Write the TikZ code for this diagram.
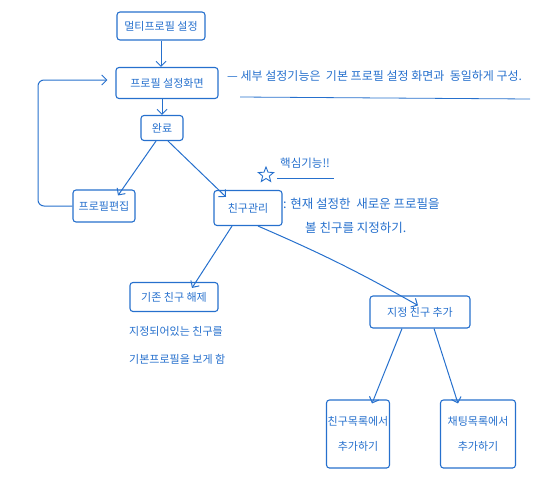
\documentclass[tikz,border=0pt]{standalone}
\usepackage{fontspec}
\setmainfont{Noto Sans CJK KR}
\usetikzlibrary{arrows.meta,shapes.geometric}
\definecolor{ink}{RGB}{38,112,205}
\tikzset{
  box/.style={draw=ink, line width=1.1pt, rounded corners=3pt, text=ink, font=\fontsize{11}{13}\selectfont, inner sep=0pt, align=center},
  note/.style={text=ink, font=\fontsize{12}{14}\selectfont, inner sep=1pt, anchor=west},
  smallnote/.style={note, font=\fontsize{11}{13}\selectfont},
  conn/.style={draw=ink, line width=1pt, -{Straight Barb[length=5pt,width=10pt]}},
  plain/.style={draw=ink, line width=1pt}
}
\begin{document}
\begin{tikzpicture}[x=1pt,y=-1pt]
\useasboundingbox (0,0) rectangle (534,488);
% boxes
\node[box, minimum width=88pt, minimum height=28pt] (multi) at (161,26) {멀티프로필 설정};
\node[box, minimum width=102pt, minimum height=31pt] (setscr) at (167,83) {프로필 설정화면};
\node[box, minimum width=42pt, minimum height=25pt] (done) at (162,128) {완료};
\node[box, minimum width=62pt, minimum height=32pt] (edit) at (104,206) {프로필편집};
\node[box, minimum width=68pt, minimum height=35pt] (friend) at (248,208) {친구관리};
\node[box, minimum width=88pt, minimum height=29pt] (release) at (174,297) {기존 친구 해제};
\node[box, minimum width=100pt, minimum height=32pt] (add) at (420,312) {지정 친구 추가};
\node[box, minimum width=63pt, minimum height=68pt] (flist) at (358,434) {친구목록에서\\[12pt]추가하기};
\node[box, minimum width=75pt, minimum height=68pt] (clist) at (478,434) {채팅목록에서\\[12pt]추가하기};
% notes
\node[note] (n1) at (226,76) {— 세부 설정기능은 \ 기본 프로필 설정 화면과 \ 동일하게 구성.};
\coordinate (u1) at (240,97);
\coordinate (u2) at (530,99);
\draw[plain, line width=0.8pt] (u1) -- (u2);
\node[star, star points=5, star point ratio=2.3, draw=ink, line width=0.9pt, minimum size=16pt, inner sep=0pt] (star) at (266,175) {};
\node[note, font=\fontsize{11.5}{13}\selectfont] (key) at (279,163) {핵심기능!!};
\coordinate (k1) at (277,178);
\coordinate (k2) at (334,178);
\draw[plain, line width=0.8pt] (k1) -- (k2);
\node[note, font=\fontsize{12.5}{14}\selectfont] (n2) at (282,204) {: 현재 설정한 \ 새로운 프로필을};
\node[note, font=\fontsize{12.5}{14}\selectfont] (n3) at (304,228) {볼 친구를 지정하기.};
\node[smallnote] (n4) at (128,331) {지정되어있는 친구를};
\node[smallnote] (n5) at (128,359) {기본프로필을 보게 함};
% connectors
\draw[conn] (multi.south) -- (multi.south |- setscr.north);
\draw[conn] (setscr.south -| done.north) -- (done.north);
\coordinate (l1) at (38,206);
\coordinate (l2) at (38,80);
\draw[conn, rounded corners=6pt] (edit.west) -- (l1) -- (l2) -- ([xshift=-8pt]setscr.west |- l2);
\draw[conn] ([xshift=-6pt]done.south) -- ([xshift=14pt,yshift=-6pt]edit.north);
\draw[conn] ([xshift=6pt]done.south) -- ([xshift=-22pt,yshift=-7pt]friend.north);
\draw[conn] ([xshift=-16pt]friend.south) -- ([xshift=18pt,yshift=-6pt]release.north);
\draw[conn] ([xshift=10pt]friend.south) to[bend left=3] ([xshift=-2pt,yshift=-10pt]add.north);
\draw[conn] ([xshift=-18pt]add.south) -- ([xshift=14pt,yshift=-4pt]flist.north);
\draw[conn] ([xshift=14pt]add.south) -- ([xshift=-20pt,yshift=-4pt]clist.north);
\end{tikzpicture}
\end{document}
